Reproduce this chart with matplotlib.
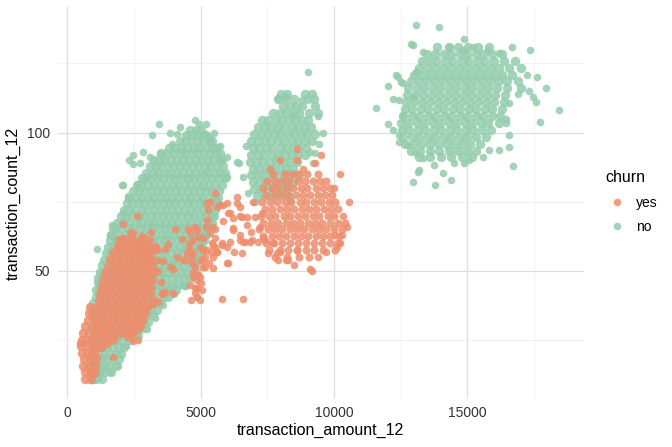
import matplotlib
matplotlib.use('Agg')
import matplotlib.pyplot as plt

plt.rcParams['font.family'] = ['Liberation Sans', 'DejaVu Sans']

# ---------------- data ----------------
# churn == "no", low-amount band: rows of (transaction_count_12, [transaction_amount_12 ...])
no_low_rows = [
    (11, [870, 1080, 1310]),
    (13.5, [950, 1200, 1410, 1620]),
    (15.5, [900, 1120, 1360, 1570, 1830]),
    (18, [1010, 1250, 1460, 1710, 1940]),
    (20, [910, 1150, 1370, 1590, 1830, 2010]),
    (22.5, [1030, 1250, 1490, 1710, 1950, 2120]),
    (25, [920, 1130, 1380, 1600, 1820, 2060, 2310]),
    (27, [1020, 1260, 1470, 1710, 1930, 2180, 2390, 2640]),
    (29.5, [910, 1150, 1360, 1610, 1820, 2070, 2280, 2520, 2730, 2870]),
    (31.5, [1040, 1260, 1500, 1710, 1960, 2170, 2420, 2630, 2880, 3020]),
    (34, [930, 1160, 1370, 1620, 1830, 2080, 2290, 2540, 2750, 3000, 3210]),
    (36, [1050, 1290, 1500, 1750, 1960, 2210, 2420, 2670, 2880, 3130, 3350]),
    (38.5, [960, 1180, 1390, 1640, 1850, 2100, 2310, 2560, 2770, 3020, 3230, 3490]),
    (40.5, [1080, 1310, 1520, 1770, 1980, 2230, 2440, 2690, 2900, 3150, 3360, 3610, 3770]),
    (43, [1060, 1280, 1530, 1740, 1990, 2200, 2450, 2660, 2910, 3120, 3370, 3580, 3830, 4090]),
    (45, [1170, 1410, 1620, 1870, 2080, 2330, 2540, 2790, 3000, 3250, 3460, 3710, 3920, 4170, 4400]),
    (47.5, [1160, 1380, 1630, 1840, 2090, 2300, 2550, 2760, 3010, 3220, 3470, 3680, 3930, 4140, 4390, 4600]),
    (49.5, [1240, 1490, 1700, 1950, 2160, 2410, 2620, 2870, 3080, 3330, 3540, 3790, 4000, 4250, 4460, 4710, 4820]),
    (52, [1310, 1580, 1830, 2040, 2290, 2500, 2750, 2960, 3210, 3420, 3670, 3880, 4130, 4340, 4590, 4800]),
    (54, [1390, 1710, 1920, 2170, 2380, 2630, 2840, 3090, 3300, 3550, 3760, 4010, 4220, 4470, 4680, 4930]),
    (56.5, [1460, 1590, 1800, 2050, 2260, 2510, 2720, 2970, 3180, 3430, 3640, 3890, 4100, 4350, 4560, 4810, 5010]),
    (58.5, [1510, 1710, 1920, 2170, 2380, 2630, 2840, 3090, 3300, 3550, 3760, 4010, 4220, 4470, 4680, 4930, 5070]),
    (61, [1590, 1820, 2030, 2280, 2490, 2740, 2950, 3200, 3410, 3660, 3870, 4120, 4330, 4580, 4790, 5040, 5110]),
    (63, [1640, 1910, 2160, 2370, 2620, 2830, 3080, 3290, 3540, 3750, 4000, 4210, 4460, 4670, 4920, 5130, 5210]),
    (65.5, [1710, 1840, 2050, 2300, 2510, 2760, 2970, 3220, 3430, 3680, 3890, 4140, 4350, 4600, 4810, 5060, 5290]),
    (67.5, [1860, 2100, 2310, 2560, 2770, 3020, 3230, 3480, 3690, 3940, 4150, 4400, 4610, 4860, 5070, 5320, 5410]),
    (70, [2010, 2210, 2420, 2670, 2880, 3130, 3340, 3590, 3800, 4050, 4260, 4510, 4720, 4970, 5180, 5430, 5510]),
    (72, [2110, 2330, 2540, 2790, 3000, 3250, 3460, 3710, 3920, 4170, 4380, 4630, 4840, 5090, 5300, 5550]),
    (74.5, [2220, 2420, 2670, 2880, 3130, 3340, 3590, 3800, 4050, 4260, 4510, 4720, 4970, 5180, 5430, 5610]),
    (76.5, [2310, 2560, 2770, 3020, 3230, 3480, 3690, 3940, 4150, 4400, 4610, 4860, 5070, 5320, 5530, 5660]),
    (79, [2460, 2680, 2890, 3140, 3350, 3600, 3810, 4060, 4270, 4520, 4730, 4980, 5190, 5440, 5690]),
    (81, [2620, 2780, 3030, 3240, 3490, 3700, 3950, 4160, 4410, 4620, 4870, 5080, 5330, 5540, 5800]),
    (83.5, [2810, 2920, 3130, 3380, 3590, 3840, 4050, 4300, 4510, 4760, 4970, 5220, 5430, 5680, 5900]),
    (85.5, [2960, 3200, 3410, 3660, 3870, 4120, 4330, 4580, 4790, 5040, 5250, 5500, 5710, 5910]),
    (88, [3110, 3320, 3530, 3780, 3990, 4240, 4450, 4700, 4910, 5160, 5370, 5620, 5850]),
    (90, [3260, 3430, 3640, 3890, 4100, 4350, 4560, 4810, 5020, 5270, 5480, 5730, 5810]),
    (92.5, [3510, 3750, 3960, 4210, 4420, 4670, 4880, 5130, 5340, 5590, 5710]),
    (94.5, [3820, 4030, 4280, 4490, 4740, 4950, 5200, 5410, 5610]),
    (97, [4210, 4430, 4640, 4890, 5100, 5350, 5420]),
    (99, [4470, 4660, 4870, 5120, 5210]),
    (101, [4620, 4830, 5010]),
]

# churn == "no", middle cluster
no_mid_rows = [
    (114, [8000, 8240, 8910, 9160]),
    (112, [7900, 8150, 8510, 9040, 9250]),
    (109.5, [8090, 8350, 8590, 8810, 9290]),
    (107, [7700, 7960, 8190, 8460, 8690, 9060, 9400]),
    (104.5, [7310, 7540, 7810, 8040, 8310, 8540, 8810, 9010]),
    (102, [7150, 7410, 7640, 7910, 8140, 8410, 8640, 8910, 9140]),
    (99.5, [7000, 7260, 7490, 7760, 7990, 8260, 8490, 8760, 8990, 9290]),
    (97, [6900, 7140, 7410, 7640, 7910, 8140, 8410, 8640, 8910, 9190]),
    (94.5, [6960, 7200, 7460, 7690, 7960, 8190, 8460, 8690, 8960]),
    (92, [6890, 7150, 7390, 7660, 7890, 8160, 8390, 8660, 8900]),
    (89.5, [6850, 7110, 7340, 7610, 7840, 8110, 8340, 8600]),
    (87, [6960, 7190, 7460, 7690, 7960, 8190, 8450]),
    (84.5, [6900, 7160, 7390, 7660, 7890, 8160, 8400, 8700]),
    (82, [6950, 7190, 7460, 7690, 7960, 8190, 8450]),
    (79.5, [7010, 7250, 7510, 7740, 8010, 8240]),
    (77, [7100, 7400, 7690, 8010, 8300]),
]

# churn == "no", high-amount cluster
no_high_rows = [
    (131, [13880, 14310, 14640, 15020, 15390, 15810]),
    (128.5, [13510, 13790, 14120, 14390, 14720, 14990, 15320, 15590, 15920, 16290]),
    (126, [13290, 13610, 13880, 14210, 14480, 14810, 15080, 15410, 15680, 16010, 16380, 16790]),
    (123.5, [13210, 13480, 13810, 14080, 14410, 14680, 15010, 15280, 15610, 15880, 16210, 16580, 17010]),
    (121, [12990, 13320, 13590, 13920, 14190, 14520, 14790, 15120, 15390, 15720, 15990, 16320, 16690]),
    (118.5, [12910, 13180, 13510, 13780, 14110, 14380, 14710, 14980, 15310, 15580, 15910, 16180, 16510, 16890]),
    (116, [12790, 13120, 13390, 13720, 13990, 14320, 14590, 14920, 15190, 15520, 15790, 16120, 16480, 17010]),
    (113.5, [12760, 13030, 13360, 13630, 13960, 14230, 14560, 14830, 15160, 15430, 15760, 16030, 16410]),
    (111, [12690, 13020, 13290, 13620, 13890, 14220, 14490, 14820, 15090, 15420, 15690, 16020, 16390]),
    (108.5, [12660, 12930, 13260, 13530, 13860, 14130, 14460, 14730, 15060, 15330, 15660, 15930, 16310]),
    (106, [12590, 12920, 13190, 13520, 13790, 14120, 14390, 14720, 14990, 15320, 15590, 15920, 16240]),
    (103.5, [12510, 12780, 13110, 13380, 13710, 13980, 14310, 14580, 14910, 15180, 15510, 15780, 16210]),
    (101, [12560, 12830, 13160, 13430, 13760, 14030, 14360, 14630, 14960, 15230, 15560, 15910]),
    (98.5, [12590, 12920, 13190, 13520, 13790, 14120, 14390, 14720, 14990, 15320, 15690]),
    (96, [12660, 12990, 13310, 13590, 13910, 14190, 14510, 14790, 15110, 15490]),
    (93.5, [12910, 13240, 13610, 13940, 14310, 14640, 15010, 15340]),
    (91, [13210, 13590, 14010, 14390, 14810, 15190]),
]

# churn == "no", isolated points
no_extra_amount = [1110, 2090, 3170, 3450, 4240, 2470, 2850, 4950, 2730, 2470, 2980, 2650, 2050, 2280,
                   6360, 5350, 5730, 3930, 3480, 3100, 4800, 4100, 5990, 6000, 1600, 1340, 970, 1150,
                   1900, 2200, 2600, 3000, 3300, 3600, 4000, 4340, 4860, 4420, 1680, 1600, 1230, 1110,
                   920, 2100, 3850, 3850, 2300, 5500, 5200,
                   9030, 7900, 8220, 8800, 8470, 9400, 9600, 9100, 9290, 9220, 6440, 6790, 7030, 8350,
                   9450, 6700, 6600,
                   11580, 18440, 13090, 13950, 12960, 13790, 14390, 16720, 17350, 17950, 17730, 12030,
                   12220, 12030, 12440, 12400, 12520, 12890, 13340, 14880, 15220, 16680, 15780, 16200,
                   17240, 17620, 17310, 17460, 17580, 16910, 16570, 16450, 16450, 16570, 16200, 16570,
                   15820, 15600, 15070, 14890, 14510, 14100, 13190, 13150, 13750, 12590, 12220, 12440,
                   12780, 13090, 13340, 12320, 12590, 12960, 12440, 13090, 12960, 14310, 14840]
no_extra_count = [57.9, 81, 99, 103, 102, 92, 93, 103, 89, 88.5, 84, 81.5, 81, 77,
                  89.5, 98.5, 95, 96, 92.6, 91, 104.5, 99.5, 91, 84, 13.5, 15, 10.6, 11.3,
                  15.5, 23, 27.5, 29, 33, 37.5, 41.5, 45, 40.6, 44.5, 66.6, 63, 49, 46,
                  37, 71, 44, 100, 90, 100, 103,
                  122, 112.5, 113, 111.8, 106, 106, 100, 93, 92.6, 89, 89, 78, 75, 75.6,
                  96, 95, 84,
                  109, 108, 139, 138, 82, 81, 83, 88, 130, 116, 104, 117,
                  112, 103, 96.6, 120, 118.4, 132, 129, 133.9, 131, 131, 130, 128.8,
                  121, 120, 115, 113, 111, 114, 110.7, 105, 103.5, 99, 93.8, 94.9,
                  93.8, 91.3, 90, 89, 89, 85.4, 86.5, 85.8, 88.4, 106.4, 101, 99,
                  95.5, 92.6, 90.8, 120.9, 118, 112.9, 111.8, 122, 131.7, 131, 129.9]

# churn == "yes", low band
yes_low_rows = [
    (61, [1950, 2210, 2440, 2710, 2940]),
    (58.7, [1900, 2140, 2350, 2600, 2810, 3040, 3290]),
    (56.5, [1720, 1960, 2170, 2420, 2630, 2880, 3100]),
    (54, [1600, 1840, 2050, 2300, 2510, 2760, 2970, 3110]),
    (51.5, [1530, 1770, 1980, 2230, 2440, 2690, 2900, 3180]),
    (49.2, [1420, 1660, 1870, 2120, 2330, 2580, 2790, 3040, 3220]),
    (46.7, [1340, 1580, 1790, 2040, 2250, 2500, 2710, 2960, 3180]),
    (44.3, [1300, 1540, 1750, 2000, 2210, 2460, 2670, 2920, 3100]),
    (42, [1230, 1470, 1680, 1930, 2140, 2390, 2600, 2850, 3100]),
    (39.5, [1190, 1430, 1640, 1890, 2100, 2350, 2560, 2810, 3030]),
    (37, [850, 1110, 1350, 1560, 1810, 2020, 2270, 2480, 2730, 2950]),
    (34.7, [800, 1040, 1250, 1490, 1700, 1950, 2160, 2410, 2620, 2900]),
    (32.3, [780, 1020, 1230, 1480, 1690, 1940, 2150, 2400, 2610, 2810]),
    (30, [680, 910, 1120, 1370, 1580, 1830, 2040, 2290, 2500, 2730]),
    (27.6, [600, 830, 1040, 1290, 1500, 1750, 1960, 2210, 2430]),
    (25.2, [560, 790, 1000, 1250, 1460, 1700]),
    (22.8, [520, 750, 960, 1110]),
    (20.4, [560, 790, 1000]),
    (18, [620, 850, 1060]),
    (15.6, [600, 830, 1030]),
    (13.3, [650, 870, 1040]),
    (11, [680, 900]),
]

# churn == "yes", middle cluster
yes_mid_rows = [
    (85, [7700, 8150, 8450, 8700, 9000, 9400]),
    (82.5, [7500, 7800, 8060, 8310, 8640, 8900, 9210, 9490, 9710]),
    (80, [7350, 7660, 7900, 8210, 8450, 8760, 9000, 9310, 9590, 9860]),
    (77.5, [7450, 7740, 8010, 8290, 8560, 8840, 9110, 9390, 9660, 9940]),
    (75, [7300, 7610, 7850, 8160, 8400, 8710, 8950, 9260, 9500, 9810, 10050]),
    (72.5, [7400, 7690, 7960, 8240, 8510, 8790, 9060, 9340, 9610, 9890, 10150]),
    (70, [7250, 7560, 7800, 8110, 8350, 8660, 8900, 9210, 9450, 9760, 10000]),
    (67.5, [7350, 7640, 7910, 8190, 8460, 8740, 9010, 9290, 9560, 9840, 10150, 10400]),
    (65, [7200, 7510, 7790, 8060, 8340, 8610, 8890, 9160, 9440, 9710, 9990, 10300]),
    (62.5, [7350, 7660, 7940, 8210, 8490, 8760, 9040, 9310, 9590, 9860, 10200]),
    (60, [7450, 7760, 8040, 8360, 8640, 8960, 9240, 9560, 9840, 10150]),
    (57.5, [7550, 7960, 8290, 8610, 8940, 9260, 9590, 10050]),
    (55, [7800, 8250, 8700, 9050]),
]

# churn == "yes", isolated / sparse points
yes_extra_amount = [4600, 4980, 4730, 5100, 4670, 5100, 4730, 4900, 4860, 4790, 4980, 4860, 4600, 4860,
                    5100, 5350, 5100, 4980, 4790, 5160, 4730, 4980, 4790, 4860, 5420, 5540, 4410, 5470,
                    5540, 5350, 5610, 5280, 5850, 5230, 5470, 4540, 4790, 4900, 4040, 6360, 6030, 6220,
                    5800, 5610, 5230, 5160, 4670, 4480, 5990, 5810, 4340, 5240, 5730, 5990, 6360, 6480,
                    6100, 6480, 6730, 6220, 6220, 6930, 7150, 7340, 6480, 6660, 5800, 5990, 5540, 5470,
                    6550, 6030, 5470, 6550, 6730, 6480, 6100, 5610, 6600, 6850, 6970, 7030, 6600, 5850,
                    6900, 6250, 5550, 5200, 5000, 4600, 4550, 4700, 5300, 5380, 5050, 4650,
                    2610, 2100, 2100, 2470, 2650, 2850, 3290, 1900, 3290, 2850, 2610, 2350, 2280, 1720,
                    3660, 3970, 3550, 3360, 3850, 3590, 3970, 3550, 3410, 3220, 3030, 3780, 3660, 4300,
                    2990, 3360, 480, 970, 1340, 2350, 2800, 3100, 2650, 2450, 1500, 1300, 1800, 3500,
                    3400, 4100, 3150,
                    10220, 10560, 8610, 7980, 8610, 9290, 8840, 7590, 10490, 10300, 10220, 10110, 7530,
                    7900, 8280, 8610, 9100, 9180, 7980, 7300, 7220, 7410, 7680, 7860, 8220, 9500, 10000,
                    10350, 8500, 9400, 9700, 10050]
yes_extra_count = [60, 58.7, 56.5, 54, 53, 51.5, 49.2, 48.5, 44, 42, 39.5, 46.7, 63.7, 64.8,
                   62, 63.7, 57.6, 54, 51.5, 51.5, 47.8, 47.8, 44, 40.6, 60, 62, 54, 55,
                   78, 75, 73, 72, 74, 68.5, 66, 65, 65.7, 62.3, 65, 76.7, 71, 65.5,
                   59.4, 57, 57.6, 55, 55, 56.5, 53, 40, 54, 74.6, 74, 74.5, 74.5, 73,
                   71, 70, 69.5, 69, 64.8, 61, 60.5, 62, 61, 60.5, 60, 58.5, 58.5, 59.5,
                   56.5, 53, 51, 69.5, 66.6, 63, 60.5, 56.9, 60.5, 60.5, 75, 69.5, 40, 68,
                   64, 57, 65, 66, 45.5, 45, 58.5, 61, 53, 57, 43, 39.5,
                   70, 67, 62, 63.7, 60, 56.5, 58.3, 58.7, 39.5, 33.4, 28.7, 27.6, 26.2, 19,
                   42.4, 42, 42, 54, 51.5, 53.6, 50.6, 41.7, 38.7, 38, 37, 59.7, 58, 61.6,
                   58.3, 57.6, 24, 35, 27.6, 64, 62.5, 61, 25, 24.5, 23.5, 22, 27, 46,
                   50, 55, 64,
                   85, 75, 94, 90, 90, 89, 87, 87, 66, 63, 60, 58.7, 56.5,
                   54, 54, 57.6, 50.6, 50, 57, 71, 66, 61, 60, 56.5, 54, 92, 80,
                   70, 52, 55, 57, 63]

churn_levels = ['yes', 'no']
churn_colors = {'yes': '#EE8D6C', 'no': '#93CCAC'}
x_ticks = [0, 5000, 10000, 15000]
x_minor = [2500, 7500, 12500, 17500]
y_ticks = [50, 100]
y_minor = [25, 75, 125]


def flatten(rows_list):
    xs, ys = [], []
    for rows in rows_list:
        for y, row in rows:
            for x in row:
                xs.append(x)
                ys.append(y)
    return xs, ys


no_core_x, no_core_y = flatten([no_low_rows, no_mid_rows, no_high_rows])
yes_core_x, yes_core_y = flatten([yes_low_rows])
yes_mid_x, yes_mid_y = flatten([yes_mid_rows])

# ---------------- drawing ----------------
W, H = 672, 447
fig = plt.figure(figsize=(W / 100, H / 100), dpi=100)
fig.patch.set_facecolor('white')
L, R, T, B = 58, 583.7, 7, 399
ax = fig.add_axes([L / W, 1 - B / H, (R - L) / W, (B - T) / H])

ms = 30        # isolated points
ms_core = 46   # points inside the dense blobs
al = 0.85
ax.scatter(no_core_x, no_core_y, s=ms_core, color=churn_colors['no'], alpha=al, linewidths=0, zorder=2)
ax.scatter(no_extra_amount, no_extra_count, s=ms, color=churn_colors['no'], alpha=al, linewidths=0, zorder=2)
ax.scatter(yes_core_x, yes_core_y, s=ms_core, color=churn_colors['yes'], alpha=al, linewidths=0, zorder=3)
ax.scatter(yes_mid_x, yes_mid_y, s=ms + 4, color=churn_colors['yes'], alpha=al, linewidths=0, zorder=3)
ax.scatter(yes_extra_amount, yes_extra_count, s=ms, color=churn_colors['yes'], alpha=al, linewidths=0, zorder=3)

ax.set_xlim(-350, 19370)
ax.set_ylim(3.7, 145.4)
ax.set_xticks(x_ticks)
ax.set_xticks(x_minor, minor=True)
ax.set_yticks(y_ticks)
ax.set_yticks(y_minor, minor=True)
ax.set_xticklabels([str(v) for v in x_ticks])
ax.set_yticklabels([str(v) for v in y_ticks])
ax.grid(which='major', color='#DEDEDE', linewidth=0.9)
ax.grid(which='minor', color='#F0F0F0', linewidth=0.6)
ax.set_axisbelow(True)
for s in ax.spines.values():
    s.set_visible(False)
ax.tick_params(which='both', length=0)
ax.tick_params(axis='x', pad=5, labelsize=10, labelcolor='#333333')
ax.tick_params(axis='y', pad=6, labelsize=10, labelcolor='#333333')
ax.set_facecolor('white')

fig.text((L + R) / 2 / W, 1 - 430 / H, 'transaction_amount_12', ha='center', va='center',
         fontsize=11.5, color='black')
fig.text(13 / W, 1 - 203 / H, 'transaction_count_12', ha='center', va='center',
         rotation=90, fontsize=11.5, color='black')

# legend
fig.text(605 / W, 1 - 178 / H, 'churn', ha='left', va='center', fontsize=11.5)
for i, lev in enumerate(churn_levels):
    yy = 202 + 24 * i
    ax.scatter([617 / W], [1 - yy / H], s=ms, color=churn_colors[lev], alpha=al,
               linewidths=0, transform=fig.transFigure, clip_on=False)
    fig.text(636 / W, 1 - (yy + 1) / H, lev, ha='left', va='center', fontsize=10)

fig.savefig('out.png', dpi=100, facecolor='white')
